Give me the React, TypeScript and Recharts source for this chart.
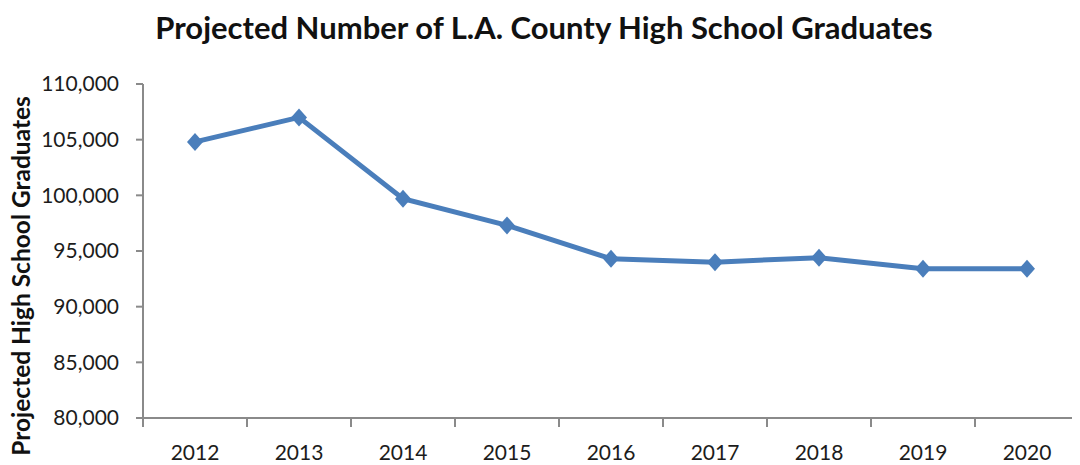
import { Line, LineChart, XAxis, YAxis } from "recharts";

// Projected L.A. County high school graduates, 2012-2020.

const years = [2012, 2013, 2014, 2015, 2016, 2017, 2018, 2019, 2020];
const graduates = [104800, 107000, 99700, 97300, 94300, 94000, 94400, 93400, 93400];
const yTicks = [80000, 85000, 90000, 95000, 100000, 105000, 110000];

const FONT = "Lato, 'Open Sans', sans-serif";
const LINE_COLOR = "#4a7ebb";
const AXIS_COLOR = "#8a8a8a";

const data = years.map((year, i) => ({ year, graduates: graduates[i] }));

// category boundaries, where Excel puts its x tick marks
const edges = [...years.map((y) => y - 0.5), years[years.length - 1] + 0.5];
const xDomain = [edges[0], edges[edges.length - 1]];

function Diamond(props: { cx?: number; cy?: number; index?: number }) {
  const { cx, cy } = props;
  if (cx == null || cy == null) return null;
  return (
    <polygon
      key={props.index}
      points={`${cx},${cy - 9} ${cx + 8},${cy} ${cx},${cy + 9} ${cx - 8},${cy}`}
      fill={LINE_COLOR}
    />
  );
}

const tickStyle = { fontFamily: FONT, fontSize: 21, fill: "#1c1c1c" };

export default function App() {
  return (
    <div style={{ position: "relative", width: 1072, height: 457, background: "#fff" }}>
      <div
        style={{
          position: "absolute",
          top: 4,
          left: 0,
          width: 1072,
          textAlign: "center",
          fontFamily: FONT,
          fontWeight: 700,
          fontSize: 31,
          lineHeight: "31px",
          color: "#111",
        }}
      >
        Projected Number of L.A. County High School Graduates
      </div>
      <div
        style={{
          position: "absolute",
          left: 13,
          top: 268,
          transform: "translate(-50%, -50%) rotate(-90deg)",
          whiteSpace: "nowrap",
          fontFamily: FONT,
          fontWeight: 700,
          fontSize: 24.5,
          lineHeight: "24px",
          color: "#111",
        }}
      >
        Projected High School Graduates
      </div>
      <LineChart
        width={1072}
        height={457}
        data={data}
        margin={{ top: 76, right: 1, left: 35, bottom: 10 }}
      >
        <XAxis
          xAxisId="edges"
          type="number"
          dataKey="year"
          domain={xDomain}
          ticks={edges}
          tickFormatter={() => ""}
          tickSize={9}
          tickLine={{ stroke: AXIS_COLOR, strokeWidth: 2 }}
          axisLine={{ stroke: AXIS_COLOR, strokeWidth: 2 }}
          height={1}
          allowDataOverflow
        />
        <XAxis
          xAxisId="year"
          type="number"
          dataKey="year"
          domain={xDomain}
          ticks={years}
          tick={tickStyle}
          tickLine={false}
          tickSize={0}
          tickMargin={26}
          axisLine={false}
          height={36}
          allowDataOverflow
        />
        <YAxis
          domain={[80000, 110000]}
          ticks={yTicks}
          tickFormatter={(v: number) => v.toLocaleString("en-US")}
          tick={tickStyle}
          tickSize={7}
          tickMargin={17}
          tickLine={{ stroke: AXIS_COLOR, strokeWidth: 2 }}
          axisLine={{ stroke: AXIS_COLOR, strokeWidth: 2 }}
          width={100}
          allowDataOverflow
        />
        <Line
          xAxisId="year"
          dataKey="graduates"
          stroke={LINE_COLOR}
          strokeWidth={5}
          dot={<Diamond />}
          activeDot={false}
          isAnimationActive={false}
        />
      </LineChart>
    </div>
  );
}
